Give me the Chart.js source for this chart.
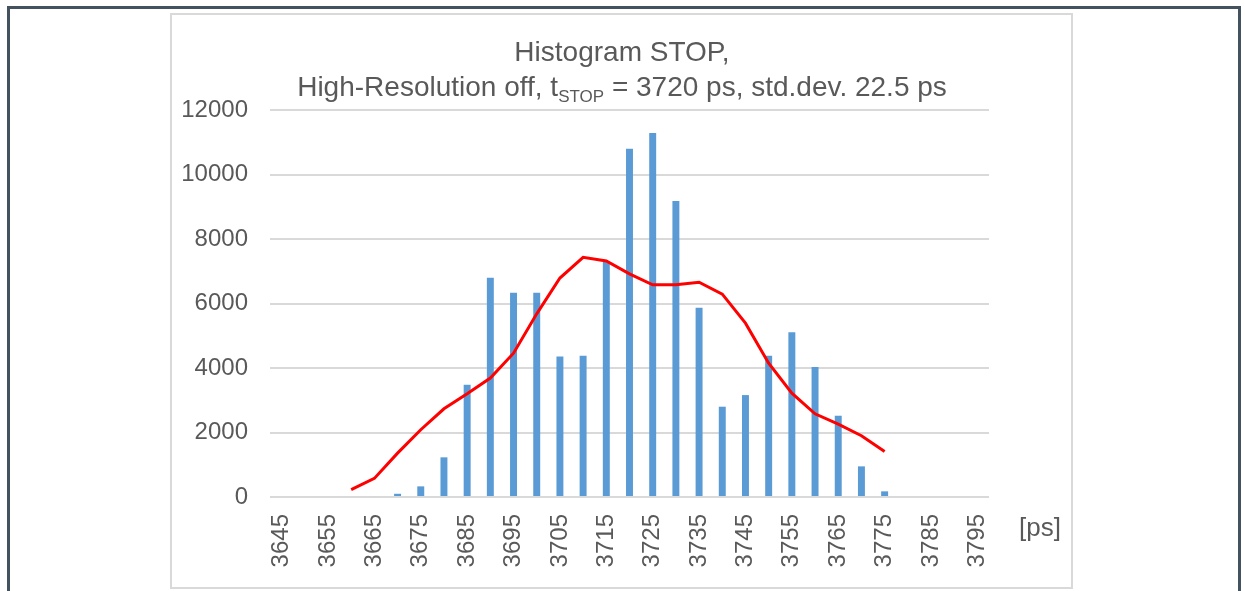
<!DOCTYPE html>
<html><head><meta charset="utf-8">
<script src="https://cdn.jsdelivr.net/npm/chart.js@4"></script>
<style>
html,body{margin:0;padding:0;background:#fff;width:1245px;height:591px;overflow:hidden;}
#outer{position:absolute;left:7px;top:6px;width:1228px;height:600px;border:3px solid #44525e;border-bottom:none;}
#inner{position:absolute;left:170px;top:13px;width:899px;height:572px;border:2px solid #d9d9d9;}
canvas{position:absolute;left:0;top:0;}
</style></head><body>
<div id="outer"></div><div id="inner"></div>
<canvas id="c" width="1245" height="591"></canvas>
<script>
const categories = ['3645','3650','3655','3660','3665','3670','3675','3680','3685','3690','3695','3700','3705','3710','3715','3720','3725','3730','3735','3740','3745','3750','3755','3760','3765','3770','3775','3780','3785','3790','3795'];
const counts = [0,0,0,0,30,100,330,1230,3480,6800,6330,6330,4360,4380,7300,10800,11290,9180,5870,2800,3160,4380,5110,4030,2520,950,175,0,0,0,0];
const fitCurve = [null,null,null,226,577,1360,2085,2735,3200,3690,4460,5680,6790,7430,7320,6920,6580,6580,6660,6290,5390,4150,3220,2580,2260,1900,1410,null,null,null,null];
const titleLine1 = 'Histogram STOP,';
const titleLine2 = ['High-Resolution off, t', 'STOP', ' = 3720 ps, std.dev. 22.5 ps'];
const xUnit = '[ps]';

const FONT = '"Liberation Sans", Arial, sans-serif';
const TEXT = '#595959';

const titlePlugin = {
  id: 'customTitle',
  afterDraw(chart) {
    const ctx = chart.ctx;
    ctx.save();
    ctx.fillStyle = TEXT;
    ctx.textBaseline = 'alphabetic';
    const cx = 622;
    ctx.font = '28px ' + FONT;
    ctx.textAlign = 'center';
    ctx.fillText(titleLine1, cx, 61);
    ctx.textAlign = 'left';
    const big = '28px ' + FONT, small = '17px ' + FONT;
    ctx.font = big; const w1 = ctx.measureText(titleLine2[0]).width;
    ctx.font = small; const w2 = ctx.measureText(titleLine2[1]).width;
    ctx.font = big; const w3 = ctx.measureText(titleLine2[2]).width;
    let x = cx - (w1 + w2 + w3) / 2;
    ctx.font = big; ctx.fillText(titleLine2[0], x, 96); x += w1;
    ctx.font = small; ctx.fillText(titleLine2[1], x, 101.5); x += w2;
    ctx.font = big; ctx.fillText(titleLine2[2], x, 96);
    ctx.font = '26px ' + FONT;
    ctx.textAlign = 'center';
    ctx.fillText(xUnit, 1040, 536);
    ctx.restore();
  }
};

new Chart(document.getElementById('c').getContext('2d'), {
  type: 'bar',
  data: {
    labels: categories,
    datasets: [
      {type: 'line', data: fitCurve, borderColor: '#ff0000', borderWidth: 3, pointRadius: 0, tension: 0, fill: false, order: 0},
      {type: 'bar', data: counts, backgroundColor: '#5b9bd5', barPercentage: 0.3, categoryPercentage: 1, order: 1}
    ]
  },
  options: {
    responsive: false, animation: false, devicePixelRatio: 1,
    layout: {padding: {left: 170, right: 256, top: 110, bottom: 0}},
    plugins: {legend: {display: false}, title: {display: false}, tooltip: {enabled: false}},
    scales: {
      x: {
        grid: {display: false}, border: {display: false},
        ticks: {autoSkip: false, minRotation: 90, maxRotation: 90, padding: 9, color: TEXT,
          font: {family: FONT, size: 24},
          callback: function(v, i) { return i % 2 === 0 ? this.getLabelForValue(v) : ''; }},
        afterFit(s) { s.height = 94; }
      },
      y: {
        min: 0, max: 12000,
        ticks: {stepSize: 2000, padding: 22, color: TEXT, font: {family: FONT, size: 24},
          callback: v => String(v)},
        grid: {color: '#d9d9d9', lineWidth: 2, drawTicks: false},
        border: {display: false},
        afterFit(s) { s.width = 100; }
      }
    }
  },
  plugins: [titlePlugin]
});
</script>
</body></html>
